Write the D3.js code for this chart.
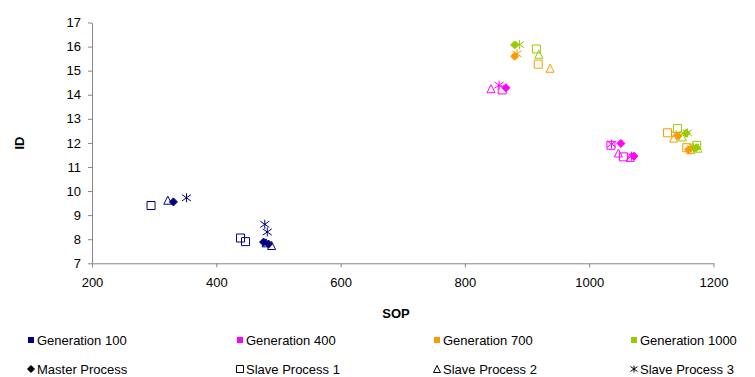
<!DOCTYPE html>
<html>
<head>
<meta charset="utf-8">
<script src="https://cdn.jsdelivr.net/npm/d3@7"></script>
<style>
html,body{margin:0;padding:0;background:#fff;}
svg{display:block;font-family:"Liberation Sans",Arial,sans-serif;}
</style>
</head>
<body>
<svg id="chart" width="755" height="377"></svg>
<script>
// ---- data (SOP, ID) ----
const generations = ["Generation 100", "Generation 400", "Generation 700", "Generation 1000"];
const genColors = ["#000080", "#FF00FF", "#FF9900", "#99CC00"];
const processes = ["Master Process", "Slave Process 1", "Slave Process 2", "Slave Process 3"];
const processShapes = ["diamond", "square", "triangle", "star"];
const xTicks = [200, 400, 600, 800, 1000, 1200];
const yTicks = [7, 8, 9, 10, 11, 12, 13, 14, 15, 16, 17];

const gen100Master = [[331, 9.55], [476, 7.88], [484, 7.8]];
const gen100Slave1 = [[295, 9.4], [439, 8.05], [447, 7.9]];
const gen100Slave2 = [[322, 9.62], [480, 7.85], [489, 7.74]];
const gen100Slave3 = [[352, 9.72], [478, 8.62], [482, 8.3]];

const gen400Master = [[866, 14.29], [1051, 11.98], [1072, 11.45]];
const gen400Slave1 = [[860, 14.2], [1035, 11.9], [1055, 11.42]];
const gen400Slave2 = [[842, 14.25], [1047, 11.58], [1066, 11.4]];
const gen400Slave3 = [[855, 14.4], [1036, 11.95], [1068, 11.45]];

const gen700Master = [[880, 15.6], [1143, 12.3], [1160, 11.72]];
const gen700Slave1 = [[918, 15.27], [1126, 12.42], [1157, 11.8]];
const gen700Slave2 = [[937, 15.1], [1136, 12.2], [1163, 11.72]];
const gen700Slave3 = [[884, 15.7], [1140, 12.35], [1165, 11.76]];

const gen1000Master = [[880, 16.07], [1156, 12.4], [1172, 11.8]];
const gen1000Slave1 = [[915, 15.9], [1142, 12.6], [1173, 11.9]];
const gen1000Slave2 = [[919, 15.68], [1150, 12.25], [1175, 11.78]];
const gen1000Slave3 = [[888, 16.08], [1158, 12.42], [1168, 11.82]];

const seriesTable = [
  [gen100Master, gen100Slave1, gen100Slave2, gen100Slave3],
  [gen400Master, gen400Slave1, gen400Slave2, gen400Slave3],
  [gen700Master, gen700Slave1, gen700Slave2, gen700Slave3],
  [gen1000Master, gen1000Slave1, gen1000Slave2, gen1000Slave3]
];

// ---- layout ----
const svg = d3.select("#chart");
const x = d3.scaleLinear().domain([200, 1200]).range([92, 713.5]);
const y = d3.scaleLinear().domain([7, 17]).range([263.3, 22.5]);
const axisColor = "#868686";

// axes
const xAxisG = svg.append("g").attr("transform", `translate(0,${y(7)})`)
  .call(d3.axisBottom(x).tickValues(xTicks).tickFormat(d3.format("d"))
    .tickSizeInner(4).tickSizeOuter(0).tickPadding(10));
const yAxisG = svg.append("g").attr("transform", `translate(${x(200)},0)`)
  .call(d3.axisLeft(y).tickValues(yTicks).tickFormat(d3.format("d"))
    .tickSizeInner(4).tickSizeOuter(0).tickPadding(7));
[xAxisG, yAxisG].forEach(g => {
  g.select(".domain").attr("stroke", axisColor).attr("stroke-width", 1);
  g.selectAll(".tick line").attr("stroke", axisColor);
  g.selectAll(".tick text").attr("fill", "#000").attr("font-size", 13)
    .attr("font-family", '"Liberation Sans",Arial,sans-serif');
});

// axis titles
svg.append("text").attr("x", 396).attr("y", 318).attr("text-anchor", "middle")
  .attr("font-size", 13).attr("font-weight", "bold").text("SOP");
svg.append("text").attr("transform", "translate(24,143) rotate(-90)").attr("text-anchor", "middle")
  .attr("font-size", 13).attr("font-weight", "bold").text("ID");

// marker shapes
function shapePath(shape, s) {
  const h = s / 2;
  switch (shape) {
    case "diamond": return `M0,${-h}L${h},0L0,${h}L${-h},0Z`;
    case "square": return `M${-h},${-h}H${h}V${h}H${-h}Z`;
    case "triangle": return `M0,${-h}L${h},${h}L${-h},${h}Z`;
    case "star": return `M0,${-h}V${h}M${-h},${-h * 0.7}L${h},${h * 0.7}M${-h},${h * 0.7}L${h},${-h * 0.7}`;
  }
}
const markerSize = {diamond: 8, square: 8, triangle: 8, star: 9};

function drawMarker(g, shape, color, size) {
  const filled = shape === "diamond";
  g.append("path").attr("d", shapePath(shape, size || markerSize[shape]))
    .attr("fill", filled ? color : "none")
    .attr("stroke", color).attr("stroke-width", 1);
}

// points
const plot = svg.append("g");
seriesTable.forEach((procs, gi) => {
  procs.forEach((pts, pi) => {
    pts.forEach(p => {
      const g = plot.append("g").attr("transform", `translate(${x(p[0])},${y(p[1])})`);
      drawMarker(g, processShapes[pi], genColors[gi]);
    });
  });
});

// legend
const legendX = [31, 240, 437, 634];
const legend = svg.append("g");
generations.forEach((name, i) => {
  legend.append("rect").attr("x", legendX[i] - 3).attr("y", 337).attr("width", 6).attr("height", 6)
    .attr("fill", genColors[i]);
  legend.append("text").attr("x", legendX[i] + 6).attr("y", 345).attr("font-size", 13).text(name);
});
processes.forEach((name, i) => {
  const g = legend.append("g").attr("transform", `translate(${legendX[i]},${369})`);
  const shape = processShapes[i];
  g.append("path").attr("d", shapePath(shape, 7))
    .attr("fill", shape === "diamond" ? "#000" : "none").attr("stroke", "#000").attr("stroke-width", 1);
  legend.append("text").attr("x", legendX[i] + 6).attr("y", 374).attr("font-size", 13).text(name);
});
</script>
</body>
</html>
